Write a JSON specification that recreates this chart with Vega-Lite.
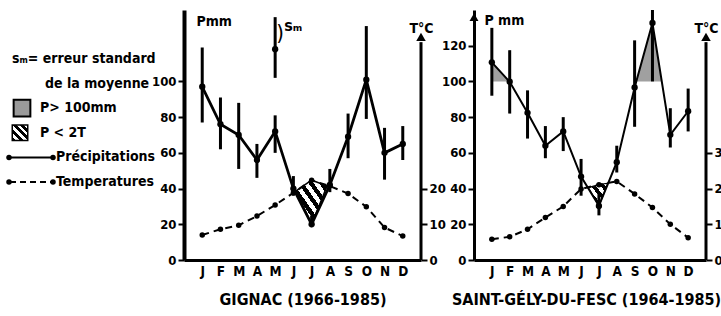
{
  "$schema": "https://vega.github.io/schema/vega-lite/v6.json",
  "padding": {"top": 8, "left": 0, "right": 0, "bottom": 0},
  "background": "white",
  "spacing": -5,
  "config": {
    "view": {"stroke": null},
    "font": "DejaVu Sans Condensed",
    "axis": {"labelFont": "DejaVu Sans Condensed", "labelFontWeight": "bold", "labelFontSize": 13, "labelColor": "black", "titleFont": "DejaVu Sans Condensed", "titleFontWeight": "bold", "titleColor": "black", "domainColor": "black", "domainWidth": 3, "tickColor": "black", "tickWidth": 2, "tickSize": 6, "grid": false, "labelPadding": 2},
    "axisX": {"labelOverlap": false, "tickCount": 12},
    "text": {"font": "DejaVu Sans Condensed", "fontWeight": "bold", "fontSize": 13, "color": "black"}
  },
  "datasets": {
    "gig": [
      {"m": 1, "P": 97, "lo": 77, "hi": 119, "T": 7.0},
      {"m": 2, "P": 76, "lo": 62, "hi": 91, "T": 8.6},
      {"m": 3, "P": 70, "lo": 51, "hi": 88, "T": 9.7},
      {"m": 4, "P": 56, "lo": 46, "hi": 65, "T": 12.3},
      {"m": 5, "P": 72, "lo": 60, "hi": 81, "T": 15.4},
      {"m": 6, "P": 40, "lo": 36, "hi": 47, "T": 18.8},
      {"m": 7, "P": 20, "lo": 19, "hi": 25, "T": 22.3},
      {"m": 8, "P": 42, "lo": 38, "hi": 51, "T": 20.7},
      {"m": 9, "P": 69, "lo": 57, "hi": 82, "T": 18.6},
      {"m": 10, "P": 101, "lo": 79, "hi": 131, "T": 14.9},
      {"m": 11, "P": 60, "lo": 45, "hi": 74, "T": 9.1},
      {"m": 12, "P": 65, "lo": 56, "hi": 75, "T": 6.7}
    ],
    "gig_hatch": [
      {"m": 6.15, "lo": 38.7, "hi": 38.7},
      {"m": 7, "lo": 20, "hi": 44.7},
      {"m": 7.85, "lo": 41.5, "hi": 41.5}
    ],
    "gig_sm": [
      {"m": 5, "P": 118, "lo": 102, "hi": 136}
    ],
    "sg": [
      {"m": 1, "P": 110.7, "lo": 92, "hi": 130, "T": 5.8},
      {"m": 2, "P": 99.8, "lo": 82, "hi": 117.5, "T": 6.5},
      {"m": 3, "P": 82.4, "lo": 68, "hi": 95, "T": 8.6},
      {"m": 4, "P": 64, "lo": 57, "hi": 75, "T": 11.9},
      {"m": 5, "P": 72, "lo": 61, "hi": 80, "T": 15.0},
      {"m": 6, "P": 46.7, "lo": 36, "hi": 56.6, "T": 19.9},
      {"m": 7, "P": 30.3, "lo": 25, "hi": 38, "T": 21.1},
      {"m": 8, "P": 54.8, "lo": 49, "hi": 64, "T": 22.0},
      {"m": 9, "P": 96.6, "lo": 74.6, "hi": 123, "T": 18.5},
      {"m": 10, "P": 132.7, "lo": 100, "hi": 140, "T": 14.7},
      {"m": 11, "P": 70.1, "lo": 63, "hi": 85, "T": 10.0},
      {"m": 12, "P": 83.3, "lo": 72, "hi": 96, "T": 6.25}
    ],
    "sg_hatch": [
      {"m": 6.4, "lo": 40.5, "hi": 40.5},
      {"m": 7, "lo": 30.3, "hi": 42.2},
      {"m": 7.5, "lo": 43, "hi": 43}
    ],
    "sg_stip": [
      {"seg": "a", "m": 1, "lo": 100, "hi": 110.7},
      {"seg": "a", "m": 1.98, "lo": 100, "hi": 100},
      {"seg": "b", "m": 9.1, "lo": 100, "hi": 100},
      {"seg": "b", "m": 10, "lo": 100, "hi": 132.7},
      {"seg": "b", "m": 10.5, "lo": 100, "hi": 100}
    ],
    "legend": [
      {"key": "h1", "text": "sₘ= erreur standard"},
      {"key": "h2", "text": "de la moyenne"},
      {"key": "stip", "text": "P> 100mm"},
      {"key": "hatch", "text": "P < 2T"},
      {"key": "prec", "text": "Précipitations"},
      {"key": "temp", "text": "Temperatures"}
    ]
  },
  "hconcat": [
    {
      "width": 155,
      "height": 250,
      "data": {"name": "legend"},
      "encoding": {
        "y": {"field": "key", "type": "nominal", "sort": ["h1", "h2", "stip", "hatch", "prec", "temp"], "scale": {"type": "point", "range": [49, 172], "padding": 0}, "axis": null}
      },
      "layer": [
        {
          "transform": [{"filter": "datum.key === 'h1'"}],
          "mark": {"type": "text", "align": "left", "baseline": "middle", "fontSize": 14},
          "encoding": {"x": {"datum": 12, "type": "quantitative", "scale": {"domain": [0, 155]}, "axis": null}, "text": {"field": "text"}}
        },
        {
          "transform": [{"filter": "datum.key === 'h2'"}],
          "mark": {"type": "text", "align": "left", "baseline": "middle", "fontSize": 14},
          "encoding": {"x": {"datum": 45, "type": "quantitative", "scale": {"domain": [0, 155]}, "axis": null}, "text": {"field": "text"}}
        },
        {
          "transform": [{"filter": "datum.key === 'stip'"}],
          "mark": {"type": "point", "shape": "square", "size": 280, "filled": true, "fill": "#9a9a9a", "stroke": "black", "strokeWidth": 2, "opacity": 1},
          "encoding": {"x": {"datum": 22, "type": "quantitative", "scale": {"domain": [0, 155]}, "axis": null}}
        },
        {
          "transform": [{"filter": "datum.key === 'hatch'"}],
          "mark": {"type": "point", "shape": "square", "size": 240, "filled": true, "opacity": 1, "stroke": "black", "strokeWidth": 1.5,
            "fill": {"gradient": "linear", "x1": 0, "y1": 1, "x2": 1, "y2": 0, "stops": [
              {"offset": 0, "color": "black"}, {"offset": 0.125, "color": "black"}, {"offset": 0.125, "color": "white"}, {"offset": 0.25, "color": "white"},
              {"offset": 0.25, "color": "black"}, {"offset": 0.375, "color": "black"}, {"offset": 0.375, "color": "white"}, {"offset": 0.5, "color": "white"},
              {"offset": 0.5, "color": "black"}, {"offset": 0.625, "color": "black"}, {"offset": 0.625, "color": "white"}, {"offset": 0.75, "color": "white"},
              {"offset": 0.75, "color": "black"}, {"offset": 0.875, "color": "black"}, {"offset": 0.875, "color": "white"}, {"offset": 1, "color": "white"}
            ]}},
          "encoding": {"x": {"datum": 20, "type": "quantitative", "scale": {"domain": [0, 155]}, "axis": null}}
        },
        {
          "transform": [{"filter": "datum.key === 'stip' || datum.key === 'hatch'"}],
          "mark": {"type": "text", "align": "left", "baseline": "middle", "fontSize": 14},
          "encoding": {"x": {"datum": 40, "type": "quantitative", "scale": {"domain": [0, 155]}, "axis": null}, "text": {"field": "text"}}
        },
        {
          "transform": [{"filter": "datum.key === 'prec'"}],
          "mark": {"type": "rule", "strokeWidth": 2, "color": "black"},
          "encoding": {"x": {"datum": 10, "type": "quantitative", "scale": {"domain": [0, 155]}, "axis": null}, "x2": {"datum": 52}}
        },
        {
          "transform": [{"filter": "datum.key === 'temp'"}],
          "mark": {"type": "rule", "strokeWidth": 2, "color": "black", "strokeDash": [6, 4]},
          "encoding": {"x": {"datum": 10, "type": "quantitative", "scale": {"domain": [0, 155]}, "axis": null}, "x2": {"datum": 54}}
        },
        {
          "transform": [{"filter": "datum.key === 'prec' || datum.key === 'temp'"}],
          "mark": {"type": "point", "filled": true, "size": 30, "color": "black", "opacity": 1},
          "encoding": {"x": {"datum": 9, "type": "quantitative", "scale": {"domain": [0, 155]}, "axis": null}}
        },
        {
          "transform": [{"filter": "datum.key === 'prec' || datum.key === 'temp'"}],
          "mark": {"type": "point", "filled": true, "size": 30, "color": "black", "opacity": 1},
          "encoding": {"x": {"datum": 53, "type": "quantitative", "scale": {"domain": [0, 155]}, "axis": null}}
        },
        {
          "transform": [{"filter": "datum.key === 'prec' || datum.key === 'temp'"}],
          "mark": {"type": "text", "align": "left", "baseline": "middle", "fontSize": 14},
          "encoding": {"x": {"datum": 56, "type": "quantitative", "scale": {"domain": [0, 155]}, "axis": null}, "text": {"field": "text"}}
        }
      ]
    },
    {
      "width": 237,
      "height": 250,
      "data": {"name": "gig"},
      "layer": [
        {
          "encoding": {
            "x": {"field": "m", "type": "quantitative", "scale": {"domain": [0, 13], "nice": false, "zero": false},
              "axis": {"values": [1, 2, 3, 4, 5, 6, 7, 8, 9, 10, 11, 12], "tickCount": 12, "labelExpr": "['J','F','M','A','M','J','J','A','S','O','N','D'][datum.value - 1]", "labelOverlap": false, "ticks": false, "labelPadding": 4, "labelFontSize": 13.5, "title": "GIGNAC (1966-1985)", "titleFontSize": 16, "titlePadding": 14}}
          },
          "layer": [
            {
              "data": {"name": "gig_hatch"},
              "mark": {"type": "area", "stroke": "black", "strokeWidth": 1.5,
                "fill": {"gradient": "linear", "x1": 0, "y1": 1, "x2": 1, "y2": 0, "stops": [
                  {"offset": 0, "color": "black"}, {"offset": 0.0833, "color": "black"}, {"offset": 0.0833, "color": "white"}, {"offset": 0.1667, "color": "white"},
                  {"offset": 0.1667, "color": "black"}, {"offset": 0.25, "color": "black"}, {"offset": 0.25, "color": "white"}, {"offset": 0.3333, "color": "white"},
                  {"offset": 0.3333, "color": "black"}, {"offset": 0.4167, "color": "black"}, {"offset": 0.4167, "color": "white"}, {"offset": 0.5, "color": "white"},
                  {"offset": 0.5, "color": "black"}, {"offset": 0.5833, "color": "black"}, {"offset": 0.5833, "color": "white"}, {"offset": 0.6667, "color": "white"},
                  {"offset": 0.6667, "color": "black"}, {"offset": 0.75, "color": "black"}, {"offset": 0.75, "color": "white"}, {"offset": 0.8333, "color": "white"},
                  {"offset": 0.8333, "color": "black"}, {"offset": 0.9167, "color": "black"}, {"offset": 0.9167, "color": "white"}, {"offset": 1, "color": "white"}
                ]}},
              "encoding": {"y": {"field": "hi", "type": "quantitative"}, "y2": {"field": "lo"}}
            },
            {
              "mark": {"type": "rule", "strokeWidth": 3, "color": "black"},
              "encoding": {"y": {"field": "lo", "type": "quantitative"}, "y2": {"field": "hi"}}
            },
            {
              "mark": {"type": "line", "strokeWidth": 2.8, "color": "black"},
              "encoding": {"y": {"field": "P", "type": "quantitative", "scale": {"domain": [0, 140], "nice": false},
                "axis": {"orient": "left", "values": [0, 20, 40, 60, 80, 100], "title": "Pmm", "titleAngle": 0, "titleAlign": "left", "titleBaseline": "middle", "titleX": 12, "titleY": 11, "titleFontSize": 14, "domainWidth": 4}}}
            },
            {
              "mark": {"type": "point", "filled": true, "size": 40, "color": "black", "opacity": 1},
              "encoding": {"y": {"field": "P", "type": "quantitative"}}
            },
            {
              "data": {"name": "gig_sm"},
              "layer": [
                {"mark": {"type": "rule", "strokeWidth": 3, "color": "black"}, "encoding": {"y": {"field": "lo", "type": "quantitative"}, "y2": {"field": "hi"}}},
                {"mark": {"type": "point", "filled": true, "size": 40, "color": "black", "opacity": 1}, "encoding": {"y": {"field": "P", "type": "quantitative"}}},
                {"mark": {"type": "text", "text": ")", "fontSize": 22, "fontWeight": "normal", "baseline": "middle", "align": "center", "dx": 5}, "encoding": {"y": {"datum": 127}}},
                {"mark": {"type": "text", "text": "sₘ", "fontSize": 16, "baseline": "middle", "align": "left", "dx": 9}, "encoding": {"y": {"datum": 131}}}
              ]
            }
          ]
        },
        {
          "layer": [
            {
              "mark": {"type": "line", "strokeWidth": 2, "color": "black", "strokeDash": [7, 5]},
              "encoding": {
                "x": {"field": "m", "type": "quantitative", "scale": {"domain": [0, 13], "nice": false, "zero": false}},
                "y": {"field": "T", "type": "quantitative", "scale": {"domain": [0, 70], "nice": false},
                  "axis": {"orient": "right", "values": [0, 10, 20], "domain": false, "title": "T°C", "titleAngle": 0, "titleAlign": "center", "titleBaseline": "middle", "titleX": 0, "titleY": 18, "titleFontSize": 14}}
              }
            },
            {
              "mark": {"type": "point", "filled": true, "size": 30, "color": "black", "opacity": 1},
              "encoding": {
                "x": {"field": "m", "type": "quantitative"},
                "y": {"field": "T", "type": "quantitative"}
              }
            },
            {
              "data": {"values": [{}]},
              "mark": {"type": "rule", "strokeWidth": 3, "color": "black"},
              "encoding": {"x": {"value": "width"}, "y": {"datum": 0, "type": "quantitative"}, "y2": {"datum": 61}}
            },
            {
              "data": {"values": [{}]},
              "mark": {"type": "point", "shape": "triangle-up", "filled": true, "size": 90, "color": "black", "opacity": 1},
              "encoding": {"x": {"value": "width"}, "y": {"datum": 62.5, "type": "quantitative"}}
            }
          ]
        }
      ],
      "resolve": {"scale": {"y": "independent"}}
    },
    {
      "width": 232,
      "height": 250,
      "data": {"name": "sg"},
      "layer": [
        {
          "encoding": {
            "x": {"field": "m", "type": "quantitative", "scale": {"domain": [0, 13], "nice": false, "zero": false},
              "axis": {"values": [1, 2, 3, 4, 5, 6, 7, 8, 9, 10, 11, 12], "tickCount": 12, "labelExpr": "['J','F','M','A','M','J','J','A','S','O','N','D'][datum.value - 1]", "labelOverlap": false, "ticks": false, "labelPadding": 4, "labelFontSize": 13.5, "title": "SAINT-GÉLY-DU-FESC (1964-1985)", "titleFontSize": 16, "titlePadding": 14, "titleX": 112, "titleAlign": "center"}}
          },
          "layer": [
            {
              "data": {"name": "sg_stip"},
              "mark": {"type": "area", "fill": "#a0a0a0", "opacity": 1},
              "encoding": {"y": {"field": "hi", "type": "quantitative"}, "y2": {"field": "lo"}, "detail": {"field": "seg"}}
            },
            {
              "data": {"name": "sg_hatch"},
              "mark": {"type": "area", "stroke": "black", "strokeWidth": 1.2,
                "fill": {"gradient": "linear", "x1": 0, "y1": 1, "x2": 1, "y2": 0, "stops": [
                  {"offset": 0, "color": "black"}, {"offset": 0.125, "color": "black"}, {"offset": 0.125, "color": "white"}, {"offset": 0.25, "color": "white"},
                  {"offset": 0.25, "color": "black"}, {"offset": 0.375, "color": "black"}, {"offset": 0.375, "color": "white"}, {"offset": 0.5, "color": "white"},
                  {"offset": 0.5, "color": "black"}, {"offset": 0.625, "color": "black"}, {"offset": 0.625, "color": "white"}, {"offset": 0.75, "color": "white"},
                  {"offset": 0.75, "color": "black"}, {"offset": 0.875, "color": "black"}, {"offset": 0.875, "color": "white"}, {"offset": 1, "color": "white"}
                ]}},
              "encoding": {"y": {"field": "hi", "type": "quantitative"}, "y2": {"field": "lo"}}
            },
            {
              "mark": {"type": "rule", "strokeWidth": 3, "color": "black"},
              "encoding": {"y": {"field": "lo", "type": "quantitative"}, "y2": {"field": "hi"}}
            },
            {
              "mark": {"type": "line", "strokeWidth": 2, "color": "black"},
              "encoding": {"y": {"field": "P", "type": "quantitative", "scale": {"domain": [0, 140], "nice": false},
                "axis": {"orient": "left", "values": [0, 20, 40, 60, 80, 100, 120], "title": "P mm", "titleAngle": 0, "titleAlign": "left", "titleBaseline": "middle", "titleX": 10, "titleY": 10, "titleFontSize": 14}}}
            },
            {
              "mark": {"type": "point", "filled": true, "size": 40, "color": "black", "opacity": 1},
              "encoding": {"y": {"field": "P", "type": "quantitative"}}
            },
            {
              "data": {"values": [{}]},
              "mark": {"type": "point", "shape": "triangle-up", "filled": true, "size": 80, "color": "black", "opacity": 1},
              "encoding": {"x": {"value": 0}, "y": {"datum": 136, "type": "quantitative"}}
            }
          ]
        },
        {
          "layer": [
            {
              "mark": {"type": "line", "strokeWidth": 2, "color": "black", "strokeDash": [7, 5]},
              "encoding": {
                "x": {"field": "m", "type": "quantitative", "scale": {"domain": [0, 13], "nice": false, "zero": false}},
                "y": {"field": "T", "type": "quantitative", "scale": {"domain": [0, 70], "nice": false},
                  "axis": {"orient": "right", "values": [0, 10, 20, 30], "domain": false, "title": "T°C", "titleAngle": 0, "titleAlign": "center", "titleBaseline": "middle", "titleX": 0, "titleY": 18, "titleFontSize": 14}}
              }
            },
            {
              "mark": {"type": "point", "filled": true, "size": 30, "color": "black", "opacity": 1},
              "encoding": {
                "x": {"field": "m", "type": "quantitative"},
                "y": {"field": "T", "type": "quantitative"}
              }
            },
            {
              "data": {"values": [{}]},
              "mark": {"type": "rule", "strokeWidth": 3, "color": "black"},
              "encoding": {"x": {"value": "width"}, "y": {"datum": 0, "type": "quantitative"}, "y2": {"datum": 61}}
            },
            {
              "data": {"values": [{}]},
              "mark": {"type": "point", "shape": "triangle-up", "filled": true, "size": 90, "color": "black", "opacity": 1},
              "encoding": {"x": {"value": "width"}, "y": {"datum": 62.5, "type": "quantitative"}}
            }
          ]
        }
      ],
      "resolve": {"scale": {"y": "independent"}}
    }
  ]
}
